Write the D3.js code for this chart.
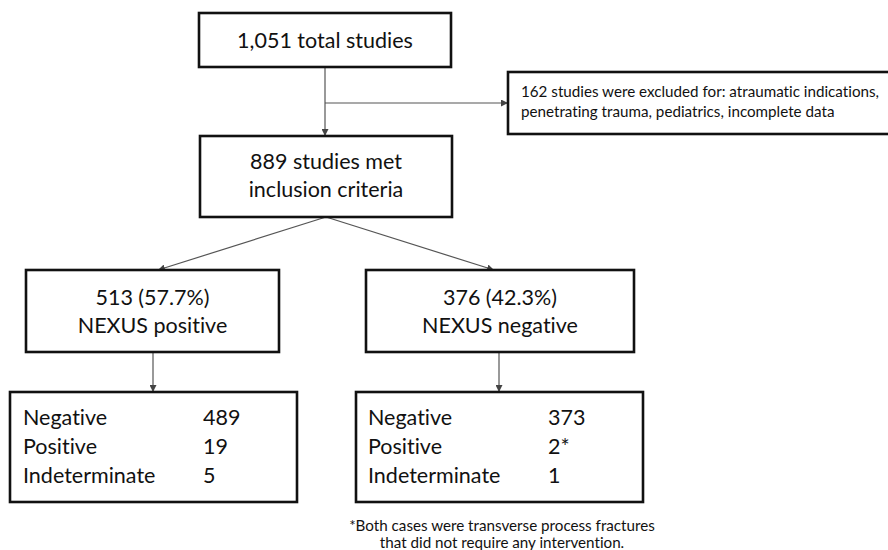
<!DOCTYPE html>
<html>
<head>
<meta charset="utf-8">
<script src="https://cdn.jsdelivr.net/npm/d3@7"></script>
<style>
  body { margin: 0; background: #fff; }
  text { font-family: Lato, "Open Sans", sans-serif; fill: #111; font-variant-ligatures: none; }
</style>
</head>
<body>
<div id="chart"></div>
<script>
// study counts
var totalStudies = 1051;
var excludedStudies = 162;
var excludedReasons = ["atraumatic indications,", "penetrating trauma, pediatrics, incomplete data"];
var includedStudies = 889;
var nexusGroups = ["NEXUS positive", "NEXUS negative"];
var nexusCounts = [513, 376];
var nexusPct = ["57.7%", "42.3%"];
var outcomeLabels = ["Negative", "Positive", "Indeterminate"];
var outcomesPos = ["489", "19", "5"];
var outcomesNeg = ["373", "2*", "1"];
var footnote = ["*Both cases were transverse process fractures", "that did not require any intervention."];

var width = 888, height = 550;
var fmt = d3.format(",");

var svg = d3.select("#chart").append("svg")
  .attr("width", width)
  .attr("height", height);

svg.append("defs").append("marker")
  .attr("id", "arr")
  .attr("viewBox", "0 0 10 10")
  .attr("refX", 10).attr("refY", 5)
  .attr("markerWidth", 7).attr("markerHeight", 7)
  .attr("markerUnits", "userSpaceOnUse")
  .attr("orient", "auto")
  .append("path")
  .attr("d", "M0,0L10,5L0,10z")
  .attr("fill", "#444");

// box layout
var boxes = [
  {id: "total", x: 199, y: 13, w: 252, h: 54},
  {id: "excl", x: 508, y: 72, w: 400, h: 62},
  {id: "incl", x: 200, y: 136, w: 252, h: 81},
  {id: "pos", x: 26, y: 270, w: 253, h: 82},
  {id: "neg", x: 366, y: 270, w: 268, h: 82},
  {id: "posOut", x: 10, y: 392, w: 287, h: 110},
  {id: "negOut", x: 356, y: 392, w: 287, h: 110}
];

var links = [
  [[325, 67], [325, 136]],
  [[325, 103], [508, 103]],
  [[326, 217], [158, 270]],
  [[326, 217], [494, 270]],
  [[153, 352], [153, 392]],
  [[499, 352], [499, 392]]
];

var line = d3.line();
svg.selectAll("path.link")
  .data(links)
  .enter().append("path")
  .attr("class", "link")
  .attr("d", line)
  .attr("stroke", "#555")
  .attr("stroke-width", 1.2)
  .attr("fill", "none")
  .attr("marker-end", "url(#arr)");

svg.selectAll("rect.box")
  .data(boxes)
  .enter().append("rect")
  .attr("class", "box")
  .attr("x", function(d) { return d.x; })
  .attr("y", function(d) { return d.y; })
  .attr("width", function(d) { return d.w; })
  .attr("height", function(d) { return d.h; })
  .attr("fill", "#fff")
  .attr("stroke", "#111")
  .attr("stroke-width", 2.6);

var big = 21.5, small = 15.2;

function centered(lines, cx, y0, dy, size) {
  svg.append("g").selectAll("text")
    .data(lines)
    .enter().append("text")
    .attr("x", cx)
    .attr("y", function(d, i) { return y0 + i * dy; })
    .attr("text-anchor", "middle")
    .attr("font-size", size)
    .text(function(d) { return d; });
}

centered([fmt(totalStudies) + " total studies"], 325, 48, 0, big);

svg.append("g").selectAll("text")
  .data([excludedStudies + " studies were excluded for: " + excludedReasons[0], excludedReasons[1]])
  .enter().append("text")
  .attr("x", 521)
  .attr("y", function(d, i) { return 97 + i * 20; })
  .attr("font-size", small)
  .text(function(d) { return d; });

centered([includedStudies + " studies met", "inclusion criteria"], 326, 169, 28, big);

var midX = [152.5, 500];
nexusGroups.forEach(function(g, k) {
  centered([nexusCounts[k] + " (" + nexusPct[k] + ")", g], midX[k], 305, 28, big);
});

var outs = [
  {labX: 23, numX: 203, vals: outcomesPos},
  {labX: 368, numX: 548, vals: outcomesNeg}
];
outs.forEach(function(o) {
  var g = svg.append("g");
  g.selectAll("text.lab")
    .data(outcomeLabels)
    .enter().append("text")
    .attr("class", "lab")
    .attr("x", o.labX)
    .attr("y", function(d, i) { return 425 + i * 29; })
    .attr("font-size", big)
    .text(function(d) { return d; });
  g.selectAll("text.num")
    .data(o.vals)
    .enter().append("text")
    .attr("class", "num")
    .attr("x", o.numX)
    .attr("y", function(d, i) { return 425 + i * 29; })
    .attr("font-size", big)
    .text(function(d) { return d; });
});

centered(footnote, 502, 531, 17, small);
</script>
</body>
</html>
